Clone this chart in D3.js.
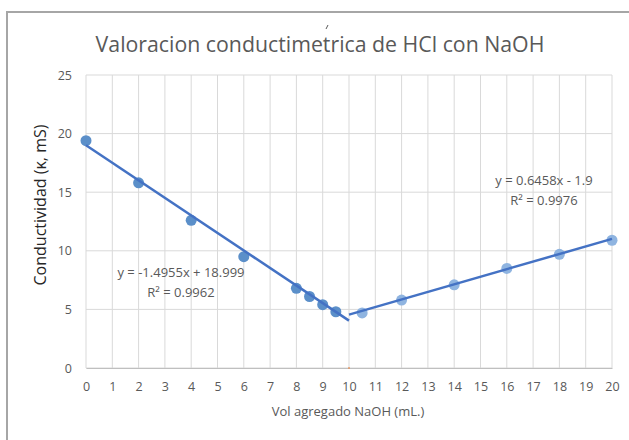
<!DOCTYPE html>
<html>
<head>
<meta charset="utf-8">
<script src="https://cdn.jsdelivr.net/npm/d3@7"></script>
<style>
  body { margin: 0; background: #fff; }
  text { font-family: "Open Sans", "Liberation Sans", sans-serif; }
</style>
</head>
<body>
<script>
// chart size
var width = 629;
var height = 440;

// datos
var volAntes = [0, 2, 4, 6, 8, 8.5, 9, 9.5];
var condAntes = [19.4, 15.8, 12.6, 9.5, 6.8, 6.1, 5.4, 4.8];
var volDespues = [10.5, 12, 14, 16, 18, 20];
var condDespues = [4.7, 5.8, 7.1, 8.5, 9.7, 10.9];

// lineas de tendencia: [pendiente, intercepto], rango x
var tendAntes = [-1.4955, 18.999];
var rangoAntes = [0, 10];
var tendDespues = [0.6458, -1.9];
var rangoDespues = [10, 20];

var etiquetasAntes = ["y = -1.4955x + 18.999", "R² = 0.9962"];
var etiquetasDespues = ["y = 0.6458x - 1.9", "R² = 0.9976"];

var xTicks = d3.range(0, 21, 1);
var yTicks = [0, 5, 10, 15, 20, 25];

var svg = d3.select("body")
  .append("svg")
  .attr("width", width)
  .attr("height", height);

// marco del grafico
svg.append("path")
  .attr("d", "M7,445 L7,12 L640,12")
  .attr("fill", "none")
  .attr("stroke", "#a6a6a6")
  .attr("stroke-width", 2);

var x = d3.scaleLinear().domain([0, 20]).range([86, 612]);
var y = d3.scaleLinear().domain([0, 25]).range([368, 75]);

// rejilla
svg.append("g")
  .selectAll("line")
  .data(xTicks)
  .join("line")
    .attr("x1", d => x(d)).attr("x2", d => x(d))
    .attr("y1", y(25)).attr("y2", y(0))
    .attr("stroke", "#d9d9d9").attr("stroke-width", 1);

svg.append("g")
  .selectAll("line")
  .data(yTicks)
  .join("line")
    .attr("x1", x(0)).attr("x2", x(20))
    .attr("y1", d => y(d)).attr("y2", d => y(d))
    .attr("stroke", "#d9d9d9").attr("stroke-width", 1);

// ejes
var xAxis = svg.append("g")
  .attr("transform", "translate(0," + y(0) + ")")
  .call(d3.axisBottom(x).tickValues(xTicks).tickSize(0).tickPadding(14));
xAxis.select(".domain").attr("stroke", "#bfbfbf");
xAxis.selectAll("text").attr("fill", "#595959").attr("font-size", 12.5);

var yAxis = svg.append("g")
  .attr("transform", "translate(" + (x(0) - 2) + ",0)")
  .call(d3.axisLeft(y).tickValues(yTicks).tickSize(0).tickPadding(12));
yAxis.select(".domain").remove();
yAxis.selectAll("text").attr("fill", "#595959").attr("font-size", 12.5);

// pequeña marca naranja en x = 10
svg.append("line")
  .attr("x1", x(10)).attr("x2", x(10))
  .attr("y1", y(0) - 1).attr("y2", y(0) + 1)
  .attr("stroke", "#ed7d31").attr("stroke-width", 1);

// titulo
svg.append("text")
  .attr("x", 320).attr("y", 52)
  .attr("text-anchor", "middle")
  .attr("fill", "#595959")
  .attr("font-size", 21.3)
  .text("Valoracion conductimetrica de HCl con NaOH");
// tilde suelta sobre la "e"
svg.append("path")
  .attr("d", "M326,29 L328,25")
  .attr("stroke", "#595959")
  .attr("stroke-width", 1);

// titulos de ejes
svg.append("text")
  .attr("transform", "translate(46,205) rotate(-90)")
  .attr("text-anchor", "middle")
  .attr("fill", "#262626")
  .attr("font-size", 16)
  .text("Conductividad (κ, mS)");

svg.append("text")
  .attr("x", 348).attr("y", 416)
  .attr("text-anchor", "middle")
  .attr("fill", "#595959")
  .attr("font-size", 13)
  .text("Vol agregado NaOH (mL.)");

// puntos
var antes = volAntes.map((v, i) => ({x: v, y: condAntes[i]}));
var despues = volDespues.map((v, i) => ({x: v, y: condDespues[i]}));

svg.append("g")
  .selectAll("circle")
  .data(antes)
  .join("circle")
    .attr("cx", d => x(d.x))
    .attr("cy", d => y(d.y))
    .attr("r", 5.5)
    .attr("fill", "#5b8fc9");

svg.append("g")
  .selectAll("circle")
  .data(despues)
  .join("circle")
    .attr("cx", d => x(d.x))
    .attr("cy", d => y(d.y))
    .attr("r", 5.5)
    .attr("fill", "#8fb4e0");

// lineas de tendencia
var linea = d3.line().x(d => x(d[0])).y(d => y(d[1]));

svg.append("path")
  .attr("d", linea(rangoAntes.map(v => [v, tendAntes[0] * v + tendAntes[1]])))
  .attr("stroke", "#4472c4").attr("stroke-width", 2.5).attr("fill", "none");

svg.append("path")
  .attr("d", linea(rangoDespues.map(v => [v, tendDespues[0] * v + tendDespues[1]])))
  .attr("stroke", "#4472c4").attr("stroke-width", 2.5).attr("fill", "none");

// ecuaciones
svg.append("g")
  .selectAll("text")
  .data(etiquetasAntes)
  .join("text")
    .attr("x", 181)
    .attr("y", (d, i) => 277 + i * 20)
    .attr("text-anchor", "middle")
    .attr("fill", "#595959")
    .attr("font-size", 13)
    .text(d => d);

svg.append("g")
  .selectAll("text")
  .data(etiquetasDespues)
  .join("text")
    .attr("x", 544)
    .attr("y", (d, i) => 185 + i * 20)
    .attr("text-anchor", "middle")
    .attr("fill", "#595959")
    .attr("font-size", 13)
    .text(d => d);
</script>
</body>
</html>
